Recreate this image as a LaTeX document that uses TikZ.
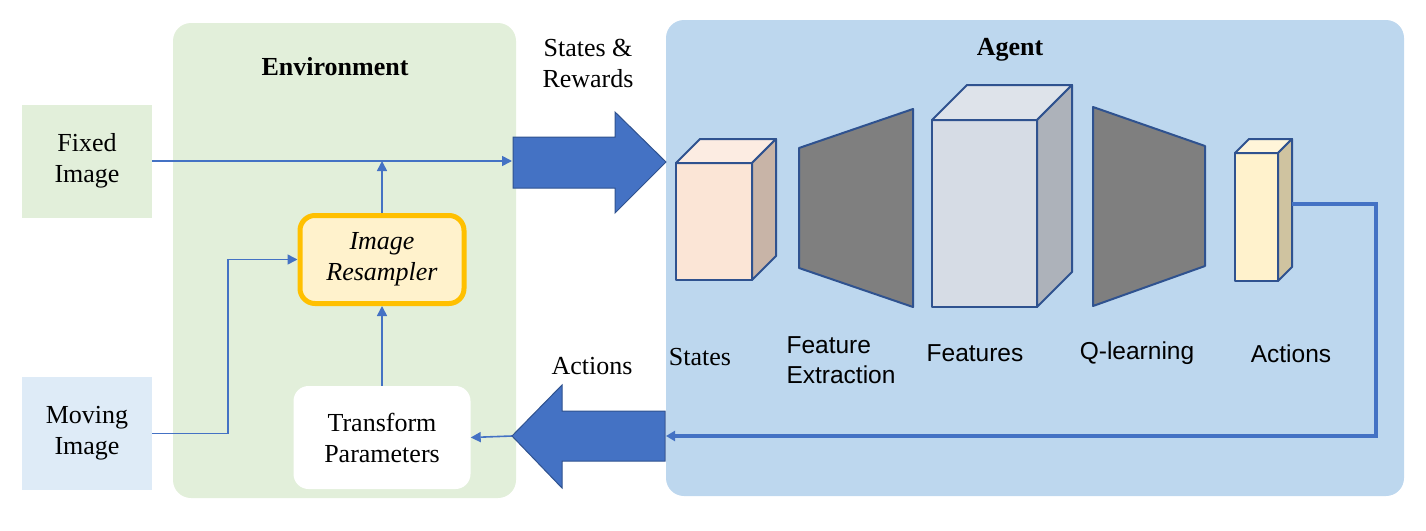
\documentclass[tikz,border=0pt]{standalone}
\usepackage{fontspec}
\setmainfont{Liberation Serif}
\newfontfamily\arialfont{Liberation Sans}
\usepackage{tikz}
\usetikzlibrary{arrows.meta, positioning}
\definecolor{envgreen}{HTML}{E2EFDA}
\definecolor{movingblue}{HTML}{DEEBF7}
\definecolor{agentblue}{HTML}{BDD7EE}
\definecolor{flowblue}{HTML}{4472C4}
\definecolor{edgeblue}{HTML}{2F528F}
\definecolor{resamplerfill}{HTML}{FFF2CC}
\definecolor{resamplerline}{HTML}{FFC000}
\definecolor{layergray}{HTML}{7F7F7F}

% front face at (x,y) with width, height, depth, then front/top/side colours
\newcommand{\netcube}[8]{%
  \filldraw[cubeline, fill=#6] (#1,#2) rectangle ++(#3,#4);
  \filldraw[cubeline, fill=#7] (#1,#2) -- ++(#5,-#5) -- ++(#3,0) -- ++(-#5,#5) -- cycle;
  \filldraw[cubeline, fill=#8] (#1,#2) ++(#3,0) -- ++(#5,-#5) -- ++(0,#4) -- ++(-#5,#5) -- cycle;
}

\begin{document}
\begin{tikzpicture}[x=1pt, y=-1pt,
  lbl/.style={font=\fontsize{26}{31}\selectfont, align=center},
  sanslbl/.style={font=\arialfont\fontsize{24.5}{30}\selectfont, align=left},
  title/.style={font=\bfseries\fontsize{26}{31}\selectfont},
  imgbox/.style={lbl, minimum width=130pt, minimum height=113pt, inner sep=0pt},
  panel/.style={rounded corners=18pt, inner sep=0pt},
  conn/.style={flowblue, line width=1.6pt, -{Triangle[length=10pt,width=10pt]}},
  feedback/.style={flowblue, line width=4.5pt, -{Triangle[length=9pt,width=10pt]}},
  bigarrow/.style={fill=flowblue, draw=edgeblue, line width=1pt},
  cubeline/.style={draw=edgeblue, line width=2pt, line join=round},
  layer/.style={fill=layergray, draw=edgeblue, line width=2pt, line join=round}]

  \useasboundingbox (0,0) rectangle (1426,530);

  % panels
  \node[panel, fill=envgreen, minimum width=343pt, minimum height=475pt] (env) at (344.5,260.5) {};
  \node[panel, fill=agentblue, minimum width=738pt, minimum height=476pt] (agent) at (1035,258) {};
  \node[title] (envtitle) at (335,67) {Environment};
  \node[title] (agenttitle) at (1010,50) {Agent};

  % inputs
  \node[imgbox, fill=envgreen] (fixed) at (87,161) {Fixed\\Image};
  \node[imgbox, fill=movingblue] (moving) at (87,433.5) {Moving\\Image};

  % environment blocks
  \node[lbl, font=\itshape\fontsize{26}{31}\selectfont, fill=resamplerfill, draw=resamplerline,
        line width=5pt, rounded corners=15pt, minimum width=164pt, minimum height=88pt]
        (resampler) at (382,259.5) {Image\\Resampler};
  \node[lbl, fill=white, rounded corners=15pt, minimum width=177pt, minimum height=103pt]
        (transform) at (382,437.5) {Transform\\Parameters};

  \coordinate (srtail) at (512,161);
  \coordinate (acttip) at (512,436);
  \draw[conn] (fixed.east) -- (srtail);
  \draw[conn] (resampler.north) -- (resampler.north |- fixed.east);
  \draw[conn] (moving.east) -- (228,433.5) |- (resampler.west);
  \draw[conn] (transform.north) -- (resampler.south);
  \draw[conn] (acttip) -- (transform.east);

  % block arrows
  \filldraw[bigarrow] (513,137) -- (615,137) -- (615,112) -- (666,162) -- (615,213) -- (615,188) -- (513,188) -- cycle;
  \filldraw[bigarrow] (665,411) -- (562,411) -- (562,385) -- (512,436) -- (562,488) -- (562,461) -- (665,461) -- cycle;
  \node[lbl] (srlabel) at (588,63) {States \&\\Rewards};
  \node[lbl] (actlabel) at (592,366) {Actions};

  % network
  \netcube{676}{163}{76}{117}{24}{{rgb,255:red,251;green,229;blue,214}}{{rgb,255:red,252;green,236;blue,226}}{{rgb,255:red,200;green,180;blue,167}}
  \filldraw[layer] (799,148) -- (913,109) -- (913,307) -- (799,268) -- cycle;
  \netcube{932}{120}{105}{187}{35}{{rgb,255:red,214;green,220;blue,229}}{{rgb,255:red,222;green,227;blue,234}}{{rgb,255:red,173;green,178;blue,186}}
  \filldraw[layer] (1093,107) -- (1205,146) -- (1205,266) -- (1093,306) -- cycle;
  \netcube{1235}{153}{43}{128}{14}{{rgb,255:red,255;green,242;blue,204}}{{rgb,255:red,255;green,245;blue,217}}{{rgb,255:red,207;green,195;blue,160}}

  \node[lbl] (statestxt) at (700,357) {States};
  \node[sanslbl, anchor=west] (feattxt) at (783,360) {Feature\\Extraction};
  \node[sanslbl] (featurestxt) at (975,353) {Features};
  \node[sanslbl] (qtxt) at (1137,353) {Q-learning};
  \node[sanslbl] (actionstxt) at (1291,354) {Actions};

  % feedback to the environment
  \coordinate (actout) at (1292,204);
  \coordinate (fbin) at (666,436);
  \draw[feedback] (actout) -- ++(84,0) |- (fbin);
\end{tikzpicture}
\end{document}
